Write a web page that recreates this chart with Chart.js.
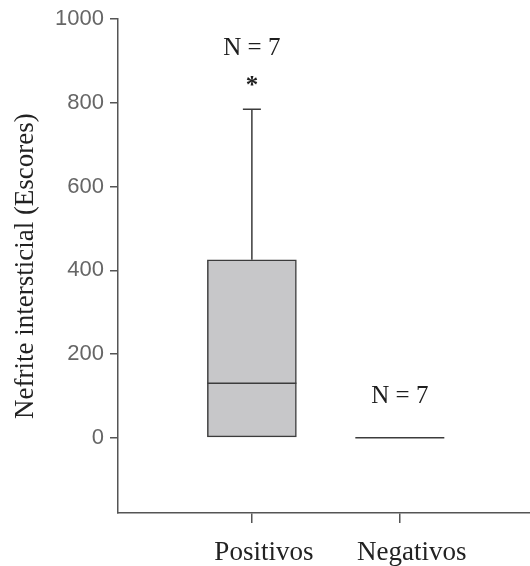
<!DOCTYPE html>
<html><head><meta charset="utf-8">
<script src="https://cdn.jsdelivr.net/npm/chart.js@4"></script>
<style>html,body{margin:0;padding:0;background:#fff}#wrap{width:530px;height:566px}</style>
</head><body><div id="wrap"><canvas id="c" width="530" height="566"></canvas></div>
<script>
// ---- data ----
const categories = ['Positivos', 'Negativos'];
const positions = [1, 2];
const whiskerLow = [0, 0];
const q1 = [0, 0];
const median = [130, 0];
const q3 = [425, 0];
const whiskerHigh = [785, 0];
const extremes = [[850], []];
const nLabels = ['N = 7', 'N = 7'];
const yTicks = [0, 200, 400, 600, 800, 1000];

const LINE = '#3c3c3c';
const AXIS = '#555555';
const BOX_W = 89;   // px
const CAP_W = 18;   // px

const boxPlugin = {
  id: 'boxPlugin',
  afterDatasetsDraw(chart) {
    const ctx = chart.ctx, xs = chart.scales.x, ys = chart.scales.y;
    ctx.save();
    ctx.strokeStyle = LINE;
    ctx.lineWidth = 1.5;
    positions.forEach((pos, i) => {
      const px = xs.getPixelForValue(pos);
      const h = BOX_W / 2;
      const yMed = ys.getPixelForValue(median[i]);
      const yQ1 = ys.getPixelForValue(q1[i]);
      const yQ3 = ys.getPixelForValue(q3[i]);
      const yHi = ys.getPixelForValue(whiskerHigh[i]);
      const yLo = ys.getPixelForValue(whiskerLow[i]);
      ctx.beginPath();
      if (whiskerHigh[i] > q3[i]) {
        ctx.moveTo(px, yQ3); ctx.lineTo(px, yHi);
        ctx.moveTo(px - CAP_W / 2, yHi); ctx.lineTo(px + CAP_W / 2, yHi);
      }
      if (whiskerLow[i] < q1[i]) {
        ctx.moveTo(px, yQ1); ctx.lineTo(px, yLo);
        ctx.moveTo(px - CAP_W / 2, yLo); ctx.lineTo(px + CAP_W / 2, yLo);
      }
      ctx.moveTo(px - h, yMed); ctx.lineTo(px + h, yMed);
      ctx.stroke();
      ctx.fillStyle = '#1e1e1e';
      ctx.font = 'bold 25px "Liberation Serif"';
      ctx.textAlign = 'center';
      ctx.textBaseline = 'alphabetic';
      let topY = Math.min(yHi, yMed, yQ3);
      let gap = 35;
      extremes[i].forEach(v => {
        const ey = ys.getPixelForValue(v);
        ctx.fillText('*', px, ey + 11);
        if (ey < topY) { topY = ey; gap = 27; }
      });
      ctx.font = '25px "Liberation Serif"';
      ctx.fillText(nLabels[i], px, topY - gap);
    });
    ctx.restore();
  }
};

new Chart(document.getElementById('c'), {
  type: 'bar',
  data: {
    datasets: [{
      data: positions.map((x, i) => ({ x: x, y: [q1[i], q3[i]] })),
      backgroundColor: '#c7c7c9',
      borderColor: LINE,
      borderWidth: 1.5,
      borderSkipped: false,
      barThickness: BOX_W,
      grouped: false
    }]
  },
  options: {
    responsive: false,
    animation: false,
    layout: { padding: { top: 17, right: 0, bottom: 0, left: 0 } },
    plugins: { legend: { display: false }, tooltip: { enabled: false } },
    scales: {
      x: {
        type: 'linear',
        offset: false,
        min: 0.095, max: 2.88,
        afterBuildTicks: s => { s.ticks = positions.map(v => ({ value: v })); },
        afterFit: s => { s.height = 53; },
        ticks: {
          callback: v => { const k = positions.indexOf(v); return k >= 0 ? categories[k] : ''; },
          font: { family: 'Liberation Serif', size: 27 },
          color: '#222',
          labelOffset: 12,
          padding: 14,
          maxRotation: 0,
          autoSkip: false
        },
        grid: { offset: false, drawOnChartArea: false, drawTicks: true, tickLength: 10, color: AXIS, lineWidth: 1.5 },
        border: { color: AXIS, width: 1.5 }
      },
      y: {
        min: -180, max: 1000,
        afterBuildTicks: s => { s.ticks = yTicks.map(v => ({ value: v })); },
        afterFit: s => { s.width = 118; },
        ticks: {
          callback: v => String(v),
          font: { family: 'Liberation Sans', size: 22 },
          color: '#666666',
          padding: 6
        },
        grid: { drawOnChartArea: false, drawTicks: true, tickLength: 8, color: AXIS, lineWidth: 1.5 },
        border: { color: AXIS, width: 1.5 },
        title: {
          display: true,
          text: 'Nefrite intersticial (Escores)',
          font: { family: 'Liberation Serif', size: 27 },
          color: '#222',
          padding: { top: 10, bottom: 0 }
        }
      }
    }
  },
  plugins: [boxPlugin]
});
</script></body></html>
